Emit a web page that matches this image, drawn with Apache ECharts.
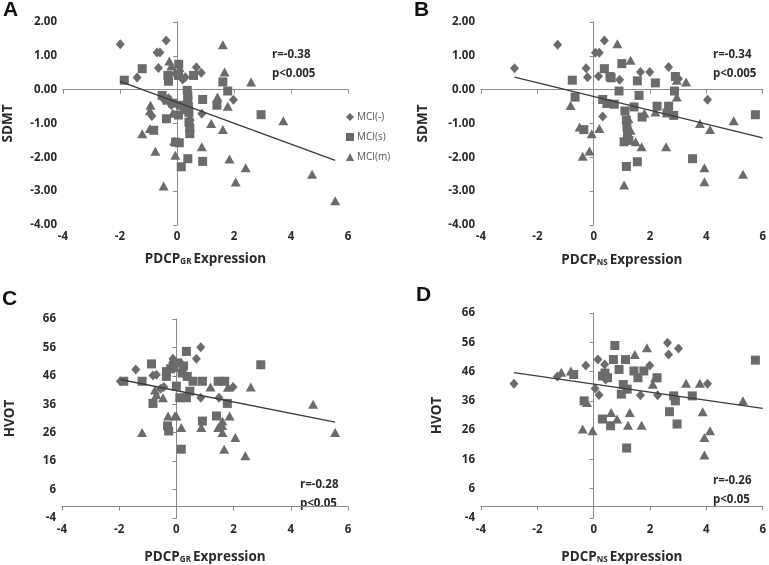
<!DOCTYPE html>
<html><head><meta charset="utf-8">
<script src="https://cdn.jsdelivr.net/npm/echarts@6/dist/echarts.min.js"></script>
<style>html,body{margin:0;padding:0;background:#fff}#c{width:769px;height:565px}</style>
</head><body><div id="c"></div>
<script>
// ---------- data ----------
const seriesNames = ['MCI(-)', 'MCI(s)', 'MCI(m)'];
const xTicks = [-4, -2, 0, 2, 4, 6];
const sdmtTicks = [-4, -3, -2, -1, 0, 1, 2];
const hvotTicks = [-4, 6, 16, 26, 36, 46, 56, 66];

// Panel A: SDMT vs PDCP_GR
const A_neg = [[-1.99,1.34],[-0.38,1.45],[-0.70,1.10],[-0.60,1.10],[-0.65,0.64],[-1.40,0.36],[0.68,0.66],[0.85,0.50],[-0.06,0.47],[0.29,0.37],[0.20,0.30],[1.98,-0.30],[0.87,-0.71],[-0.88,-0.78],[-0.30,-0.25],[-0.45,-0.30],[0.10,0.55],[-0.20,-0.45],[0.25,-0.60]];
const A_s = [[-1.85,0.28],[-1.22,0.62],[0.06,0.75],[-0.32,0.42],[-0.30,0.25],[0.05,0.42],[0.58,0.42],[0.36,-0.02],[0.38,-0.17],[0.38,-0.31],[0.40,-0.50],[0.42,-0.67],[0.42,-0.96],[0.45,-1.14],[0.45,-1.30],[0.90,-0.29],[1.40,-0.46],[-0.52,-0.17],[-0.35,-0.31],[-0.15,-0.40],[0.12,-0.46],[0.05,-0.75],[-0.37,-0.86],[-0.82,-1.20],[0.15,-2.28],[0.38,-2.04],[0.90,-2.12],[1.61,0.23],[1.78,-0.04],[2.95,-0.74],[-0.05,-1.55],[0.08,-1.57]];
const A_m = [[-0.27,0.85],[-0.20,0.70],[1.61,1.33],[1.67,0.52],[2.60,0.23],[1.42,-0.22],[1.78,-0.49],[1.20,-1.00],[1.61,-1.18],[3.73,-0.92],[-0.93,-0.46],[-0.95,-0.62],[-1.22,-1.30],[-0.95,-1.15],[-0.10,-1.52],[0.87,-1.69],[-0.76,-1.82],[-0.06,-1.94],[1.84,-2.05],[2.41,-2.31],[2.06,-2.73],[4.74,-2.50],[5.55,-3.28],[-0.47,-2.85],[-0.15,-0.70],[0.45,-0.80]];

// Panel B: SDMT vs PDCP_NS
const B_neg = [[-2.81,0.63],[-1.28,1.33],[0.38,1.45],[0.06,1.09],[0.20,1.09],[-0.27,0.63],[-0.22,0.37],[0.17,0.40],[0.92,0.29],[1.66,0.52],[1.99,0.52],[2.66,0.67],[3.01,0.32],[4.04,-0.30],[0.32,-0.79]];
const B_s = [[-0.76,0.28],[-0.66,-0.22],[-0.35,-1.18],[0.38,0.62],[0.58,0.39],[1.00,0.77],[1.55,0.26],[1.61,-0.17],[2.19,0.20],[2.25,-0.49],[2.66,-0.49],[2.60,-0.69],[2.84,-0.76],[2.90,0.39],[2.87,-0.04],[3.51,-2.04],[5.74,-0.74],[1.16,-2.27],[1.55,-2.13],[0.32,-0.29],[0.47,-0.41],[0.73,-0.43],[0.90,-0.04],[1.11,-0.63],[1.16,-0.90],[1.18,-1.10],[1.20,-1.30],[1.08,-1.54],[1.25,-1.50],[1.43,-0.51],[1.72,-0.81],[0.62,0.35]];
const B_m = [[0.84,1.36],[1.31,0.87],[3.28,0.23],[2.95,-0.22],[-0.82,-0.47],[-0.50,-1.10],[-0.07,-1.30],[0.20,-1.15],[-0.39,-1.97],[-0.15,-1.81],[1.08,-2.82],[1.23,-0.85],[1.31,-1.20],[1.49,-1.54],[1.70,-1.69],[2.57,-1.69],[3.77,-1.00],[4.13,-1.18],[3.93,-2.31],[3.93,-2.72],[4.97,-0.92],[5.30,-2.50],[2.19,-0.66],[1.80,-0.70],[2.95,0.28]];

// Panel C: HVOT vs PDCP_GR
const C_neg = [[-1.96,44.1],[-1.42,48.2],[-0.82,46.1],[-0.70,46.4],[-0.44,42.1],[-0.12,52.0],[0.70,52.0],[0.85,56.1],[0.85,38.3],[1.49,38.3],[1.98,42.1],[-0.55,41.5],[0.15,50.5]];
const C_s = [[-1.84,44.1],[-1.20,44.1],[-0.87,50.2],[-0.82,36.3],[-0.35,47.5],[-0.35,45.8],[-0.31,28.4],[-0.27,26.6],[0.00,42.4],[0.12,38.3],[0.35,38.3],[0.17,20.2],[0.35,54.6],[0.38,45.8],[0.58,44.1],[0.47,40.6],[0.91,44.1],[0.91,30.1],[1.40,31.9],[1.46,44.1],[1.69,44.1],[1.78,36.3],[2.95,49.9],[-0.10,49.0],[0.05,50.5],[0.25,49.5],[0.20,47.0],[-0.20,48.5]];
const C_m = [[-1.20,26.1],[-0.70,39.4],[-0.47,38.3],[-0.29,31.9],[0.00,31.9],[0.17,27.8],[-0.12,51.9],[0.87,27.8],[1.19,42.1],[1.46,27.8],[1.61,30.1],[1.61,26.1],[1.86,31.9],[1.67,20.2],[2.06,24.3],[2.41,17.9],[2.60,42.1],[4.78,36.0],[5.55,26.1],[1.80,42.0],[-0.75,41.0],[-0.05,32.0],[1.60,28.5]];

// Panel D: HVOT vs PDCP_NS
const D_neg = [[-2.83,41.8],[-1.29,44.3],[-0.28,48.1],[0.15,50.1],[0.05,40.2],[0.19,38.0],[0.43,43.3],[0.39,48.4],[1.99,48.1],[1.66,37.9],[2.27,37.9],[2.62,55.8],[2.66,51.8],[3.01,53.9],[4.04,41.8]];
const D_s = [[-0.71,45.0],[-0.34,36.0],[0.31,29.8],[0.31,44.5],[0.49,43.9],[0.60,27.5],[0.75,54.9],[0.70,50.1],[0.90,46.7],[0.98,38.3],[1.05,41.6],[1.13,50.1],[1.19,40.0],[1.17,19.9],[1.43,46.2],[1.57,43.9],[1.78,46.2],[2.25,43.9],[2.69,32.3],[2.84,37.7],[2.90,36.0],[2.96,28.1],[3.50,37.7],[5.74,49.9],[0.40,45.5]];
const D_m = [[-1.15,45.8],[-0.81,46.2],[-0.39,26.4],[-0.04,25.8],[-0.24,35.4],[0.62,32.0],[0.83,29.8],[1.22,27.7],[1.28,32.0],[1.46,51.8],[1.70,27.7],[1.89,54.1],[2.10,41.7],[3.28,42.0],[3.77,42.0],[3.87,32.3],[3.93,23.5],[4.13,25.8],[3.93,17.5],[5.30,36.0],[2.18,43.9]];

// regression lines: x range and [intercept, slope]
const fitRangeA = [-2.0, 5.55], fitCoefA = [-0.376, -0.309];
const fitRangeB = [-2.81, 6.0], fitCoefB = [-0.204, -0.204];
const fitRangeC = [-1.96, 5.55], fitCoefC = [40.8, -2.0];
const fitRangeD = [-2.83, 6.0], fitCoefD = [41.7, -1.38];

const statsText = [['r=-0.38','p<0.005'],['r=-0.34','p<0.005'],['r=-0.28','p<0.05'],['r=-0.26','p<0.05']];
const panelLetters = ['A','B','C','D'];
const yTitles = ['SDMT','SDMT','HVOT','HVOT'];
const xSubs = ['GR','NS','GR','NS'];

// ---------- chart ----------
const FONT = '"Open Sans", "Noto Sans", sans-serif';
const MARK = '#6b6b6b';
const TXT = '#2a2a2a';
const grids = [
  {left: 62, top: 22, width: 286, height: 203},
  {left: 481, top: 22, width: 284, height: 203},
  {left: 62, top: 319, width: 286, height: 200},
  {left: 481, top: 313, width: 284, height: 206}
];
const panels = [[A_neg,A_s,A_m],[B_neg,B_s,B_m],[C_neg,C_s,C_m],[D_neg,D_s,D_m]];
const fits = [[fitRangeA,fitCoefA],[fitRangeB,fitCoefB],[fitRangeC,fitCoefC],[fitRangeD,fitCoefD]];
const symbols = ['diamond','rect','triangle'];
const symSizes = [[9,10],[9,9],[10,9]];
const xNameGaps = [23, 24, 28, 28];
const yNameGaps = [48, 51, 45, 37];

const axisLine = {show: true, lineStyle: {color: '#8a8a8a', width: 1}};
const xAxes = grids.map((g, i) => ({
  gridIndex: i, type: 'value', min: xTicks[0], max: xTicks[xTicks.length-1], interval: 2,
  axisLine, axisTick: {show: true, length: 4, lineStyle: {color: '#8a8a8a'}},
  splitLine: {show: false},
  axisLabel: {color: TXT, fontFamily: FONT, fontWeight: 'bold', fontSize: 11.5, margin: 6},
  name: '{a|PDCP}{b|' + xSubs[i] + '}{a|Expression}',
  nameLocation: 'middle', nameGap: xNameGaps[i],
  nameTextStyle: {rich: {
    a: {fontFamily: FONT, fontWeight: 'bold', fontSize: 13.5, color: TXT, lineHeight: 18, verticalAlign: 'bottom'},
    b: {fontFamily: FONT, fontWeight: 'bold', fontSize: 8, color: TXT, verticalAlign: 'bottom', lineHeight: 13, padding: [0, 2, 0, 0]}
  }}
}));
const yAxes = grids.map((g, i) => {
  const sd = i < 2;
  const ticks = sd ? sdmtTicks : hvotTicks;
  return {
    gridIndex: i, type: 'value', min: ticks[0], max: ticks[ticks.length-1],
    interval: ticks[1]-ticks[0],
    axisLine, axisTick: {show: true, length: 4, lineStyle: {color: '#8a8a8a'}},
    splitLine: {show: false},
    axisLabel: {color: TXT, fontFamily: FONT, fontWeight: 'bold', fontSize: 11.5, margin: 6,
      formatter: v => sd ? v.toFixed(2) : String(v)},
    name: yTitles[i], nameLocation: 'middle', nameGap: yNameGaps[i], nameRotate: 90,
    nameTextStyle: {fontFamily: FONT, fontWeight: 'bold', fontSize: 13.5, color: TXT}
  };
});

const series = [];
panels.forEach((p, i) => {
  p.forEach((data, k) => {
    series.push({
      type: 'scatter', name: seriesNames[k], xAxisIndex: i, yAxisIndex: i,
      data, symbol: symbols[k], symbolSize: symSizes[k],
      itemStyle: {color: MARK, opacity: 1}, z: 2, silent: true
    });
  });
  const [rng, coef] = fits[i];
  series.push({
    type: 'line', xAxisIndex: i, yAxisIndex: i, showSymbol: false, silent: true,
    data: rng.map(x => [x, coef[0] + coef[1] * x]),
    lineStyle: {color: '#3a3a3a', width: 1.3}, z: 3
  });
});

const annPos = [[272, 45], [713, 45], [300, 475], [713, 471]];
const letterPos = [[3, 0], [414, 0], [2, 289], [416, 285]];
const graphic = [];
statsText.forEach((t, i) => {
  graphic.push({type: 'text', left: annPos[i][0], top: annPos[i][1],
    style: {text: t[0] + '\n' + t[1], fill: TXT, font: 'bold 11.5px ' + FONT, lineHeight: 19}});
});
panelLetters.forEach((l, i) => {
  graphic.push({type: 'text', left: letterPos[i][0], top: letterPos[i][1],
    style: {text: l, fill: '#111', font: 'bold 21px Arial, "Liberation Sans", sans-serif'}});
});

const chart = echarts.init(document.getElementById('c'), null, {renderer: 'canvas'});
chart.setOption({
  animation: false,
  backgroundColor: '#fff',
  grid: grids,
  xAxis: xAxes,
  yAxis: yAxes,
  legend: {
    data: seriesNames.map((n, k) => ({name: n, icon: symbols[k]})),
    orient: 'vertical', left: 341, top: 107, itemWidth: 8, itemHeight: 8, itemGap: 10,
    selectedMode: false,
    textStyle: {fontFamily: FONT, fontSize: 10, color: '#555', padding: [0, 0, 0, -2]}
  },
  series,
  graphic
});
</script>
</body></html>
